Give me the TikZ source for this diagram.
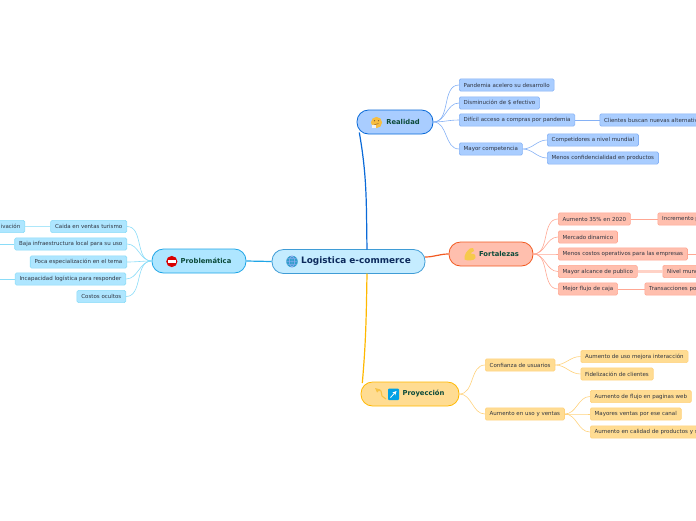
\documentclass[tikz,border=0pt]{standalone}
\usepackage{fontspec}
\setmainfont{DejaVu Sans}
\definecolor{bluefill}{HTML}{A9CDFF}
\definecolor{blueline}{HTML}{0A6AD8}
\definecolor{blueleaf}{HTML}{85B1F5}
\definecolor{redfill}{HTML}{FFBFAE}
\definecolor{redline}{HTML}{F25A22}
\definecolor{redleaf}{HTML}{FFA793}
\definecolor{yellowfill}{HTML}{FFDC92}
\definecolor{yellowline}{HTML}{FFB800}
\definecolor{yellowleaf}{HTML}{FFD27C}
\definecolor{cyanfill}{HTML}{AEE6FF}
\definecolor{cyanline}{HTML}{1FA5E6}
\definecolor{cyanleaf}{HTML}{8ADCF8}
\definecolor{rootfill}{HTML}{C5ECFF}
\definecolor{rootline}{HTML}{3F9CD6}
\definecolor{roottext}{HTML}{0C2A5C}
\definecolor{darktext}{HTML}{0B4A3A}
\definecolor{leaftext}{HTML}{2F3440}
\definecolor{gold}{HTML}{F6C94C}
\begin{document}
\begin{tikzpicture}[x=1pt, y=-1pt,
    main/.style = {draw, line width=0.8pt, rounded corners=11.5pt, minimum height=24pt, inner sep=0pt, text=darktext, font=\bfseries\fontsize{6.8}{8}\selectfont},
    leaf/.style = {draw, line width=0.6pt, rounded corners=1.5pt, minimum height=12.3pt, inner xsep=4.4pt, inner ysep=0pt, anchor=west, text=leaftext, font=\fontsize{5.5}{6.5}\selectfont},
    blue/.style = {leaf, fill=bluefill, draw=blueleaf},
    red/.style = {leaf, fill=redfill, draw=redleaf},
    yellow/.style = {leaf, fill=yellowfill, draw=yellowleaf},
    cyan/.style = {leaf, fill=cyanfill, draw=cyanleaf},
    cyanleft/.style = {cyan, anchor=east},
    link/.style = {line width=0.6pt, out=0, in=180},
    linkleft/.style = {line width=0.6pt, out=180, in=0}]
    \clip (0,0) rectangle (696,520);
    % centre and the four branches
    \node[main, fill=rootfill, draw=rootline, text=roottext, minimum width=153pt, font=\bfseries\fontsize{8.9}{10}\selectfont] (root) at (348.5,261.5) {\hspace{15pt}Logistica e-commerce};
    \node[main, fill=bluefill, draw=blueline, minimum width=76pt] (real) at (395,122) {\hspace{16pt}Realidad};
    \node[main, fill=redfill, draw=redline, minimum width=84pt] (fort) at (491,254) {\hspace{16pt}Fortalezas};
    \node[main, fill=yellowfill, draw=yellowline, minimum width=98pt] (proy) at (410,394) {\hspace{27pt}Proyección};
    \node[main, fill=cyanfill, draw=cyanline, minimum width=94pt] (prob) at (199,261) {\hspace{14pt}Problemática};
    \coordinate (realfoot) at (359.3,132.5);
    \coordinate (proyhead) at (362.3,383);
    \coordinate (roottop) at (367,249.5);
    \coordinate (rootfoot) at (367,273.5);
    \coordinate (rootright) at (425,257);
    \draw[blueline, line width=1.2pt] (realfoot) to[out=-80, in=91] (roottop);
    \draw[yellowline, line width=1.2pt] (proyhead) to[out=85, in=-91] (rootfoot);
    \draw[redline, line width=1.2pt] (rootright) to[out=0, in=180] (fort.west);
    \draw[cyanline, line width=1.2pt] (root.west) to (prob.east);
    % realidad
    \node[blue] (r1) at (459,85) {Pandemia acelero su desarrollo};
    \node[blue] (r2) at (459,103) {Disminución de \$ efectivo};
    \node[blue] (r3) at (459,120) {Difícil acceso a compras por pandemia};
    \node[blue, text width=120pt, align=left] (r4) at (599.5,120) {Clientes buscan nuevas alternativ};
    \node[blue] (r5) at (459,149) {Mayor competencia};
    \node[blue] (r6) at (547,140) {Competidores a nivel mundial};
    \node[blue] (r7) at (547,158) {Menos confidencialidad en productos};
    \foreach \n in {r1,r2,r3,r5} \draw[blueleaf, link] (real.east) to (\n.west);
    \draw[blueleaf, line width=0.6pt] (r3) -- (r4);
    \draw[blueleaf, link] (r5.east) to (r6.west);
    \draw[blueleaf, link] (r5.east) to (r7.west);
    % fortalezas
    \node[red] (f1) at (558,219) {Aumento 35\% en 2020};
    \node[red, text width=80pt, align=left] (f2) at (657.5,219) {Incremento p};
    \node[red] (f3) at (558,237) {Mercado dinamico};
    \node[red] (f4) at (558,254) {Menos costos operativos para las empresas};
    \coordinate (f5) at (700,254);
    \node[red] (f6) at (558,271.5) {Mayor alcance de publico};
    \node[red, text width=80pt, align=left] (f7) at (662.5,271.5) {Nivel mund};
    \node[red] (f8) at (558,289) {Mejor flujo de caja};
    \node[red, text width=80pt, align=left] (f9) at (644.5,289) {Transacciones po};
    \foreach \n in {f1,f3,f4,f6,f8} \draw[redleaf, link] (fort.east) to (\n.west);
    \draw[redleaf, line width=0.6pt] (f1) -- (f2);
    \draw[redleaf, line width=0.6pt] (f4) -- (f5);
    \draw[redfill!70!white, line width=2.2pt] (f6) -- (f7);
    \draw[redleaf, line width=0.6pt] (f8) -- (f9);
    % proyeccion
    \node[yellow] (p1) at (485,365) {Confianza de usuarios};
    \node[yellow] (p2) at (485,414) {Aumento en uso y ventas};
    \node[yellow] (p3) at (580.5,356.5) {Aumento de uso mejora interacción};
    \node[yellow] (p4) at (580.5,374) {Fidelización de clientes};
    \node[yellow] (p5) at (590,396.5) {Aumento de flujo en paginas web};
    \node[yellow] (p6) at (590,414) {Mayores ventas por ese canal};
    \node[yellow, text width=120pt, align=left] (p7) at (590,432) {Aumento en calidad de productos y s};
    \foreach \n in {p1,p2} \draw[yellowleaf, link] (proy.east) to (\n.west);
    \foreach \n in {p3,p4} \draw[yellowleaf, link] (p1.east) to (\n.west);
    \foreach \n in {p5,p6,p7} \draw[yellowleaf, link] (p2.east) to (\n.west);
    % problematica
    \node[cyanleft] (c1) at (127,226.5) {Caida en ventas turismo};
    \node[cyanleft, text width=60pt, align=right] (c2) at (25,226.5) {ivación};
    \node[cyanleft] (c3) at (127,244) {Baja infraestructura local para su uso};
    \coordinate (c4) at (-4,244);
    \node[cyanleft] (c5) at (127,262) {Poca especialización en el tema};
    \node[cyanleft] (c6) at (126,279) {Incapacidad logística para responder};
    \coordinate (c7) at (-4,279);
    \node[cyanleft] (c8) at (126,296.5) {Costos ocultos};
    \foreach \n in {c1,c3,c5,c6,c8} \draw[cyanleaf, linkleft] (prob.west) to (\n.east);
    \draw[cyanleaf!70!white, line width=1.4pt] (c1) -- (c2);
    \draw[cyanleaf, line width=0.6pt] (c3) -- (c4);
    \draw[cyanleaf, line width=0.6pt] (c6) -- (c7);
    % icons
    \fill[blue!30!cyan!60!gray] (292,261.5) circle (5.8);
    \draw[white!70!blue, line width=0.35pt] (292,261.5) circle (2.5 and 5.8) (286.2,261.5) -- (297.8,261.5) (292,255.7) -- (292,267.3) (287,258.5) -- (297,258.5) (287,264.5) -- (297,264.5);
    \fill[gold!85!orange] (376.5,122.5) circle (5.6);
    \fill[brown!70!black] (374.5,120.7) circle (0.7) (378.5,120.7) circle (0.7);
    \draw[brown!70!black, line width=0.5pt] (374.5,124.6) -- (378.5,123.6);
    \fill[white!90!gray] (372,124.5) rectangle (376,128);
    \fill[gold] (464.5,259.5) .. controls (464,254) and (467,251) .. (470,248.5) -- (473,248) -- (474,251) -- (471.5,252.5) -- (471,254) .. controls (474,253) and (476,255) .. (475.5,258) .. controls (474,261) and (467,261) .. cycle;
    \fill[red!85!black] (171.8,261.5) circle (5.6);
    \fill[white] (168,260.4) rectangle (175.6,262.6);
    \draw[gold!90!orange, line width=1.1pt, line join=round] (377,389.5) -- (381,391) -- (382,396) -- (386,399);
    \fill[gold!90!orange] (375,388) -- (380.5,389.5) -- (377,392.5) -- cycle;
    \fill[blue!30!cyan!90!black, rounded corners=1pt] (388,388.5) rectangle (399,400);
    \draw[white, line width=0.8pt, -stealth] (390.5,397.5) -- (396.5,391);
\end{tikzpicture}
\end{document}
